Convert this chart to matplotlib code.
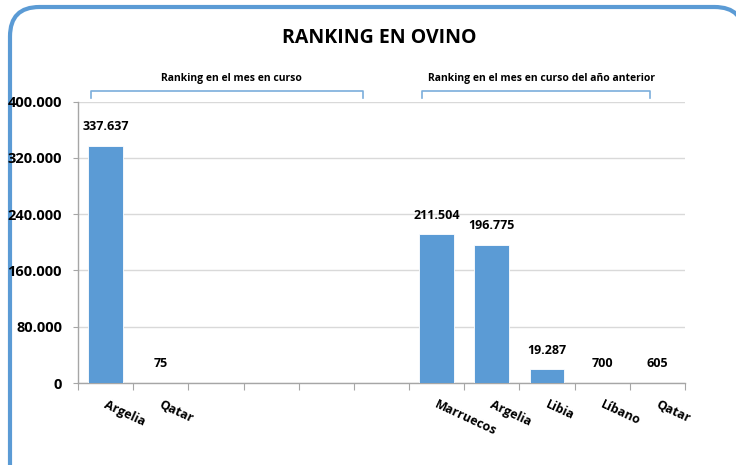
import matplotlib
matplotlib.use("Agg")
import matplotlib.pyplot as plt
from matplotlib.patches import FancyBboxPatch
from matplotlib.lines import Line2D
import numpy as np

categories = ["Argelia", "Qatar", "", "", "", "", "Marruecos", "Argelia", "Libia", "Líbano", "Qatar"]
values = [337637, 75, None, None, None, None, 211504, 196775, 19287, 700, 605]
yticks = [0, 80000, 160000, 240000, 320000, 400000]
title = "RANKING EN OVINO"
group_labels = ["Ranking en el mes en curso", "Ranking en el mes en curso del año anterior"]

plt.rcParams['font.family'] = ['Open Sans', 'DejaVu Sans']

def fmt(v):
    return f"{v:,.0f}".replace(",", ".")

fig = plt.figure(figsize=(7.36, 4.65), dpi=100)
W, H = 736, 465

# rounded frame (extends beyond right and bottom edges)
frame = FancyBboxPatch((10 / W, -30 / H), 734 / W, (H - 7 + 30) / H,
                       boxstyle="round,pad=0,rounding_size=0.04",
                       transform=fig.transFigure, facecolor="white",
                       edgecolor="#5B9BD5", linewidth=3, clip_on=False,
                       mutation_aspect=W / H, zorder=-5)
fig.patches.append(frame)

ax = fig.add_axes([78 / W, (H - 383) / H, (685 - 78) / W, (383 - 101.7) / H])
ax.set_facecolor("none")

x = np.arange(len(categories))
vals = [v if v is not None else 0 for v in values]
ax.bar(x, vals, width=0.63, color="#5B9BD5", edgecolor="white", linewidth=0.6, zorder=3)

for xi, v in zip(x, values):
    if v is None:
        continue
    ax.annotate(fmt(v), (xi, v), xytext=(0, 9), textcoords="offset points",
                ha="center", va="bottom", fontsize=9, fontweight="bold", color="black")

ax.set_xlim(-0.5, len(categories) - 0.5)
ax.set_ylim(0, 400000)
ax.set_yticks(yticks)
ax.set_yticklabels([fmt(t) for t in yticks], fontsize=10.5, fontweight="bold")
ax.yaxis.grid(True, color="#D9D9D9", linewidth=1, zorder=0)
ax.set_axisbelow(True)

ax.set_xticks(np.arange(-0.5, len(categories)), minor=False)
ax.set_xticklabels([])
ax.set_xticks(x + 0.03, minor=True)
ax.set_xticklabels(categories, minor=True, rotation=-25, ha="left", va="top",
                   rotation_mode="anchor", fontsize=9, fontweight="bold")
ax.tick_params(axis="x", which="minor", length=0, pad=11)
ax.tick_params(axis="x", which="major", length=5, color="#A6A6A6", direction="out")
ax.tick_params(axis="y", length=3.5, color="#A6A6A6", direction="out", pad=8)
for s in ["top", "right"]:
    ax.spines[s].set_visible(False)
for s in ["left", "bottom"]:
    ax.spines[s].set_color("#A6A6A6")
    ax.spines[s].set_linewidth(1)

fig.text(379 / W, 1 - 38 / H, title, ha="center", va="center", fontsize=14, fontweight="bold")

# brackets
def bracket(x0, x1, xt, label):
    c = "#7BAEDC"
    fig.add_artist(Line2D([x0 / W, x0 / W, x1 / W, x1 / W],
                          [1 - 98 / H, 1 - 91 / H, 1 - 91 / H, 1 - 98 / H],
                          color=c, linewidth=1.2, transform=fig.transFigure))
    fig.text(xt / W, 1 - 79 / H, label, ha="center", va="center",
             fontsize=7.5, fontweight="bold")

bracket(91, 363, 231, group_labels[0])
bracket(422, 650, 542, group_labels[1])

fig.savefig("out.png", dpi=100)
